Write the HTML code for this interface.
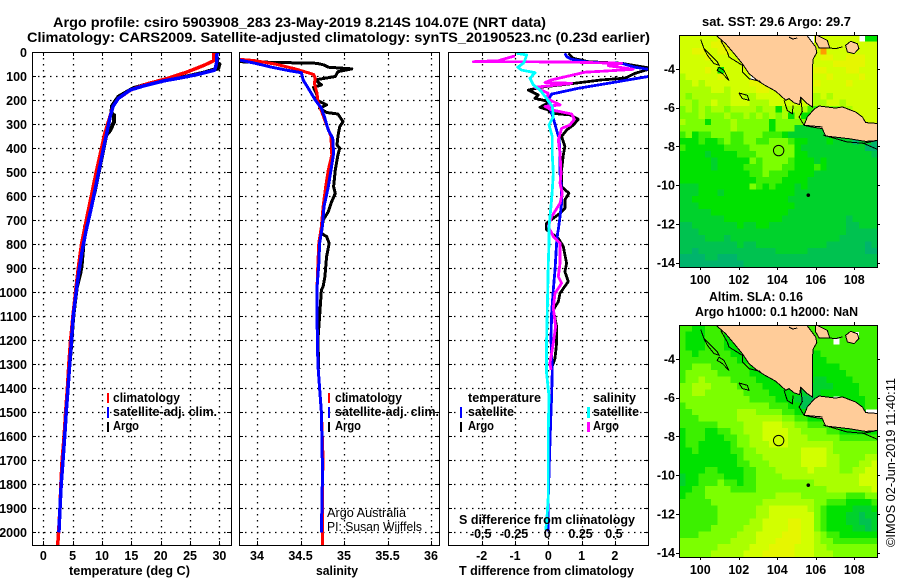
<!DOCTYPE html>
<html lang="en">
<head>
<meta charset="utf-8">
<title>Argo profile chart</title>
<style>
html,body{margin:0;padding:0;background:#fff;width:900px;height:580px;overflow:hidden}
svg{display:block}
text{font-family:"Liberation Sans",sans-serif;fill:#000}
.b{font-weight:700;font-size:13px}
.t{font-weight:700;font-size:14px}
.r{font-weight:400;font-size:13px}
</style>
</head>
<body>
<svg id="chart" xmlns="http://www.w3.org/2000/svg" width="900" height="580" viewBox="0 0 900 580">
<defs>
<clipPath id="clip-temp"><rect x="32" y="52" width="199" height="493"/></clipPath>
<clipPath id="clip-sal"><rect x="239" y="52" width="200" height="493"/></clipPath>
<clipPath id="clip-diff"><rect x="448" y="52" width="200" height="493"/></clipPath>
<clipPath id="clip-map-top"><rect x="679" y="35" width="198" height="232"/></clipPath>
<clipPath id="clip-map-bot"><rect x="679" y="325" width="198" height="232"/></clipPath>
</defs>
<rect width="900" height="580" fill="#fff"/>
<g id="layer-marks"></g>

<text class="t" x="53" y="27" textLength="493" lengthAdjust="spacingAndGlyphs">Argo profile: csiro 5903908_283 23-May-2019 8.214S 104.07E (NRT data)</text>
<text class="t" x="27" y="42" textLength="623" lengthAdjust="spacingAndGlyphs">Climatology: CARS2009. Satellite-adjusted climatology: synTS_20190523.nc (0.23d earlier)</text>

<text class="b" x="69" y="575" textLength="121" lengthAdjust="spacingAndGlyphs">temperature (deg C)</text>
<text class="b" x="316" y="575" textLength="42" lengthAdjust="spacingAndGlyphs">salinity</text>
<text class="b" x="459" y="575" textLength="175" lengthAdjust="spacingAndGlyphs">T difference from climatology</text>
<text class="b" x="459" y="524" textLength="176" lengthAdjust="spacingAndGlyphs">S difference from climatology</text>

<g>
<rect x="107" y="393" width="2" height="10" fill="#f00"/>
<text class="b" x="113" y="402" textLength="67" lengthAdjust="spacingAndGlyphs">climatology</text>
<rect x="107" y="407" width="2" height="11" fill="#00f"/>
<text class="b" x="113" y="416" textLength="104" lengthAdjust="spacingAndGlyphs">satellite-adj. clim.</text>
<rect x="107" y="422" width="2" height="10" fill="#000"/>
<text class="b" x="113" y="430" textLength="26" lengthAdjust="spacingAndGlyphs">Argo</text>
</g>
<g>
<rect x="328" y="393" width="2" height="10" fill="#f00"/>
<text class="b" x="335" y="402" textLength="67" lengthAdjust="spacingAndGlyphs">climatology</text>
<rect x="328" y="407" width="2" height="11" fill="#00f"/>
<text class="b" x="335" y="416" textLength="104" lengthAdjust="spacingAndGlyphs">satellite-adj. clim.</text>
<rect x="328" y="422" width="2" height="10" fill="#000"/>
<text class="b" x="335" y="430" textLength="26" lengthAdjust="spacingAndGlyphs">Argo</text>
<text class="r" x="327" y="517" textLength="79" lengthAdjust="spacingAndGlyphs">Argo Australia</text>
<text class="r" x="327" y="531" textLength="95" lengthAdjust="spacingAndGlyphs">PI: Susan Wijffels</text>
</g>
<g>
<text class="b" x="468" y="402" textLength="73" lengthAdjust="spacingAndGlyphs">temperature</text>
<rect x="460" y="407" width="2" height="11" fill="#00f"/>
<text class="b" x="468" y="416" textLength="46" lengthAdjust="spacingAndGlyphs">satellite</text>
<rect x="460" y="422" width="2" height="10" fill="#000"/>
<text class="b" x="468" y="430" textLength="26" lengthAdjust="spacingAndGlyphs">Argo</text>
<text class="b" x="593" y="402" textLength="43" lengthAdjust="spacingAndGlyphs">salinity</text>
<rect x="587" y="407" width="3" height="11" fill="#0ff"/>
<text class="b" x="593" y="416" textLength="46" lengthAdjust="spacingAndGlyphs">satellite</text>
<rect x="587" y="422" width="3" height="10" fill="#f0f"/>
<text class="b" x="593" y="430" textLength="26" lengthAdjust="spacingAndGlyphs">Argo</text>
</g>

<text class="b" x="702" y="26" textLength="149" lengthAdjust="spacingAndGlyphs">sat. SST: 29.6 Argo: 29.7</text>
<text class="b" x="709" y="301" textLength="94" lengthAdjust="spacingAndGlyphs">Altim. SLA: 0.16</text>
<text class="b" x="695" y="316" textLength="163" lengthAdjust="spacingAndGlyphs">Argo h1000: 0.1 h2000: NaN</text>
<text class="r" transform="translate(895 547) rotate(-90)" textLength="169" lengthAdjust="spacingAndGlyphs">©IMOS 02-Jun-2019 11:40:11</text>
</svg>

<script>
// ---------- profile data ----------
const depthTicks = [0,100,200,300,400,500,600,700,800,900,1000,1100,1200,1300,1400,1500,1600,1700,1800,1900,2000];
const tempTicks = [0,5,10,15,20,25,30];
const salTicks = [34,34.5,35,35.5,36];
const salTickLabels = ['34','34.5','35','35.5','36'];
const diffTicks = [-2,-1,0,1,2];
const sDiffTicks = [-0.5,-0.25,0,0.25,0.5];
const sDiffTickLabels = ['-0.5','-0.25','0','0.25','0.5'];

const tempClimDepth = [0,36,55,83,110,132,158,192,224,288,337,413,490,560,643,726,800,892,975,1100,1200,1300,1400,1500,1600,1700,1800,1900,2000,2053];
const tempClimValue = [29,29,27.3,24.4,21,17.6,14.8,12.8,11.9,11.1,10.5,9.8,9.1,8.5,7.8,7.1,6.5,6,5.6,5.05,4.65,4.35,4.1,3.8,3.55,3.2,3,2.85,2.6,2.45];
const tempSatDepth = [0,46,74,90,104,119,140,157,192,224,268,337,406,490,574,657,740,817,908,978,1100,1200,1300,1400,1500,1600,1700,1800,1900,2000];
const tempSatValue = [29.6,29.5,29.2,26.7,23.9,20.5,17.1,14.8,12.8,11.9,11.4,10.8,10.2,9.5,8.8,8.1,7.3,6.7,6.1,5.7,5.1,4.8,4.5,4.2,3.9,3.65,3.35,3.05,2.85,2.65];
const tempArgoDepth = [0,46,49,67,85,101,115,129,150,185,224,255,262,290,325,346,408,490,574,657,706,726,809,892,920,978,1100,1200,1320];
const tempArgoValue = [29.5,29.6,30,29.8,27.3,24.4,21,18.2,15.3,12.8,11.7,11.6,12.05,12.05,11.4,10.7,10.2,9.5,8.8,8,7.5,7.1,6.8,6.5,6.3,5.7,5.1,4.8,4.4];

const salClimDepth = [29,35,49,69,92,108,129,171,206,254,303,351,428,490,560,643,726,796,879,990,1100,1300,1400,1500,1700,1800,2000,2053];
const salClimValue = [33.8,33.98,34.21,34.44,34.65,34.67,34.66,34.69,34.7,34.75,34.8,34.85,34.86,34.82,34.79,34.76,34.74,34.71,34.7,34.69,34.69,34.7,34.72,34.74,34.76,34.75,34.75,34.75];
const salSatDepth = [32,46,62,76,85,115,150,199,233,275,324,358,421,490,560,643,726,796,879,983,1100,1300,1400,1500,1700,1800,2000];
const salSatValue = [33.8,33.98,34.17,34.36,34.51,34.53,34.59,34.67,34.74,34.78,34.82,34.87,34.88,34.85,34.82,34.77,34.75,34.72,34.71,34.69,34.69,34.7,34.72,34.74,34.75,34.75,34.74];
const salArgoDepth = [39,42,46,53,62,69,81,101,115,136,146,178,199,219,233,251,257,289,310,351,386,400,428,490,560,587,629,664,699,754,768,796,851,935,976,990,1100,1200,1320];
const salArgoValue = [33.8,34.21,34.69,34.77,34.82,35.09,34.93,34.9,34.67,34.74,34.65,34.69,34.69,34.8,34.72,34.8,34.93,34.99,34.95,34.93,34.92,34.95,34.93,34.9,34.88,34.9,34.85,34.82,34.76,34.74,34.8,34.83,34.8,34.78,34.76,34.74,34.72,34.7,34.71];

const tDiffSatDepth = [4,18,29,42,46,62,71,85,101,122,150,174,199,233,254,275,324,358,421,504,574,629,685,740,754,796,907,990,1087,1198,1323,1434,1546,1712,1851,1997];
const tDiffSatValue = [0.5,0.55,0.7,1.25,2.2,2.6,3,3.4,3,2.1,0.9,0.1,0,0.05,0.1,0.15,0.25,0.32,0.35,0.35,0.4,0.4,0.35,0.3,0.28,0.25,0.2,0.15,0.1,0.08,0.12,0.1,0.07,0.03,0,0];
const tDiffArgoDepth = [4,25,39,46,67,88,108,115,136,143,157,178,192,206,229,240,254,261,279,303,324,351,393,428,490,560,587,615,650,671,712,740,775,809,879,914,955,1004,1039,1073,1143,1212,1275,1323];
const tDiffArgoValue = [0.6,0.75,1.2,2.2,3.1,2.6,2.3,1.6,0.4,-0.1,-0.6,-0.3,-0.4,0.05,-0.25,0,0.1,0.65,0.9,0.75,0.55,0.4,0.5,0.45,0.4,0.4,0.62,0.5,0.5,0.35,-0.05,-0.05,0.3,0.45,0.55,0.5,0.6,0.35,0.3,0.15,0.25,0.25,0.2,0.08];
const sDiffSatDepth = [4,11,32,46,62,74,85,108,136,157,192,226,268,303,351,428,504,574,643,726,796,879,1018,1198,1337,1434,1573,1851,1962,1990];
const sDiffSatValue = [-0.2375,-0.1625,-0.175,-0.1875,-0.23,-0.2,-0.1,-0.1375,-0.1125,-0.0625,-0.0125,0.03,0.0375,0.005,0.03,0.03,0.0375,0.03,0.02,0.005,0.005,0,-0.005,-0.0125,-0.0125,0.005,0,0,-0.0125,-0.02];
const sDiffArgoDepth = [15,35,39,40,46,56,71,76,83,115,126,129,146,171,192,219,226,240,257,279,303,317,365,421,504,546,587,629,685,726,767,796,879,934,962,1004,1066,1143,1212,1295,1323];
const sDiffArgoValue = [-0.25,-0.375,-0.5625,0.0875,0.55,0.45,0.6375,0.5,0.275,0.025,-0.025,0.175,-0.1,0,-0.0125,0.0875,-0.025,0.025,0.175,0.195,0.1625,0.1,0.075,0.0875,0.095,0.0875,0.105,0.0875,0.025,0,0.0375,0.0875,0.0875,0.075,0.1,0.05,0.0375,0.055,0.0375,0.0125,0.02];

// ---------- map data (colour level per 1/3 degree cell, -1 = no data) ----------
const lonTicks = [100,102,104,106,108];
const latTicks = [-4,-6,-8,-10,-12,-14];
const sstGrid = [
[7,7,7,7,7,7,8,7,7,7,7,7,7,7,7,7,7,7,7,7,-1,7,7,7,7,7,7,7,-1,3,3],
[7,7,7,7,7,8,8,8,7,7,7,7,7,7,7,7,7,7,7,7,-1,7,7,7,7,7,7,7,7,7,7],
[7,7,8,8,7,7,8,8,7,7,7,7,7,7,7,7,7,7,7,7,7,7,9,7,7,7,7,7,7,7,7],
[7,7,7,7,8,7,7,7,7,7,7,7,7,7,7,7,7,7,7,7,7,7,8,8,7,7,8,8,8,7,7],
[7,7,7,7,7,7,7,7,7,7,7,7,7,7,7,7,7,7,7,7,7,7,7,7,8,8,8,8,8,7,7],
[7,7,7,7,8,7,3,7,7,7,7,7,7,7,7,7,7,7,7,7,7,8,8,7,7,7,8,8,7,7,7],
[6,7,7,7,7,7,8,7,7,7,7,-1,7,7,7,7,7,7,7,7,7,7,7,8,7,7,7,7,8,7,7],
[6,6,7,6,7,7,7,7,7,7,7,8,8,8,7,7,7,7,7,7,7,8,7,7,7,7,8,7,7,7,7],
[6,6,6,6,6,7,7,6,7,7,7,7,8,8,7,7,7,7,7,7,7,7,7,7,7,7,7,7,7,7,7],
[6,5,6,6,6,6,6,6,7,7,6,6,7,7,7,7,7,7,7,7,6,6,7,6,7,7,7,7,7,7,7],
[6,6,5,6,6,7,6,6,7,7,7,6,6,6,7,7,7,7,7,7,6,6,6,7,7,6,7,7,7,7,7],
[5,6,5,6,5,6,6,5,6,6,6,6,5,6,6,3,6,6,6,6,4,4,5,5,5,6,6,7,7,7,7],
[5,5,5,6,5,5,5,6,5,5,6,5,6,5,6,5,6,3,6,3,3,5,5,6,6,6,6,6,7,7,7],
[6,5,5,5,3,5,5,5,6,5,5,5,5,5,3,5,5,5,5,5,5,5,5,5,5,5,5,5,7,7,7],
[5,5,5,5,5,5,5,5,6,5,5,5,5,5,3,5,5,5,2,2,2,2,2,2,2,2,2,2,2,2,2],
[4,5,3,4,4,5,5,5,4,4,5,5,5,4,4,4,3,2,2,2,2,2,2,2,2,2,2,2,2,2,2],
[3,3,3,4,3,3,4,5,4,4,5,5,4,4,5,5,5,4,3,3,2,2,2,3,2,2,2,0,2,2,0],
[4,3,3,3,3,3,3,4,4,4,4,5,5,5,5,5,5,5,3,2,2,2,2,2,2,2,2,2,2,0,0],
[3,3,3,3,2,3,3,3,3,4,4,4,5,5,5,5,5,5,3,3,2,2,2,2,2,2,2,2,2,2,1],
[3,3,3,3,3,2,3,3,3,3,3,5,4,5,5,5,5,4,3,3,3,2,3,2,2,2,2,2,2,2,2],
[3,3,3,3,3,2,3,3,3,3,4,4,4,5,5,5,4,4,3,3,3,4,3,2,2,2,2,2,2,2,2],
[3,3,3,3,3,3,3,3,3,3,3,4,4,5,4,4,4,3,3,3,3,2,2,2,2,2,2,2,2,2,2],
[3,3,3,3,3,3,3,3,3,3,3,3,4,4,4,4,3,3,3,3,2,2,2,2,2,2,2,2,2,2,2],
[2,2,2,3,3,3,3,3,3,3,3,5,4,3,4,3,3,3,2,3,2,2,2,2,2,2,2,2,2,2,2],
[2,2,2,3,3,3,2,3,3,3,3,3,3,3,3,3,3,3,2,2,2,2,2,2,2,2,2,2,2,2,2],
[2,2,3,3,3,3,3,3,3,3,3,3,3,3,3,3,3,2,2,2,2,2,2,2,2,2,2,2,2,2,2],
[2,2,2,3,3,3,3,3,3,3,3,3,3,3,3,3,3,3,2,2,2,2,2,2,2,2,2,2,2,2,2],
[2,2,2,2,2,3,3,3,3,3,3,3,3,3,3,3,3,2,2,2,2,2,2,2,2,2,2,2,2,2,2],
[2,2,2,2,2,2,2,3,3,3,3,3,3,3,3,3,2,2,2,2,2,2,2,2,2,2,1,2,2,2,2],
[1,1,2,2,2,2,2,2,2,3,2,2,3,3,2,2,2,2,2,2,2,2,2,2,2,2,1,1,2,2,2],
[1,1,1,2,2,2,2,2,2,2,2,2,2,2,2,2,2,2,2,2,2,2,2,2,2,2,1,1,1,1,1],
[1,1,1,1,2,2,2,1,2,2,2,2,2,2,2,2,2,2,2,2,2,2,2,2,2,1,1,1,1,1,1],
[1,1,1,1,1,1,1,1,1,2,1,1,2,2,2,2,2,2,2,2,2,2,2,1,1,1,1,1,1,0,1],
[1,1,0,1,1,1,1,1,1,1,1,1,1,1,1,2,2,2,2,2,1,1,1,1,1,1,1,1,1,0,0],
[0,0,0,0,1,1,0,0,0,1,1,1,1,1,1,1,1,1,1,1,1,1,1,1,1,1,1,1,1,1,1],
[0,0,0,0,0,0,0,0,0,0,1,1,1,1,1,1,1,1,1,1,1,1,1,1,1,1,1,1,1,1,1]
];
const slaGrid = [
[4,4,3,3,4,4,4,3,3,3,3,3,3,3,3,3,3,3,3,3,4,4,4,4,4,4,4,4,4,4,4],
[4,3,3,3,4,4,4,3,3,3,3,3,3,3,3,3,3,3,3,3,4,4,3,4,4,4,4,-1,4,4,4],
[4,3,3,3,4,4,4,3,3,3,3,3,3,3,3,3,3,3,3,3,4,4,4,4,-1,4,4,4,4,4,4],
[4,3,3,3,4,4,4,3,3,3,3,3,3,3,3,3,3,3,3,3,3,4,4,4,4,4,4,4,4,4,4],
[4,4,3,4,4,4,4,4,3,3,3,3,3,3,3,3,3,3,3,3,3,3,4,4,4,4,4,4,4,4,4],
[4,4,4,4,4,4,4,4,4,3,3,3,3,3,3,3,3,3,3,3,3,3,3,4,4,4,4,4,4,4,4],
[4,4,5,5,5,4,4,4,4,4,4,3,3,3,3,3,3,3,3,3,3,3,3,3,3,4,4,4,4,4,4],
[4,5,5,5,5,5,4,4,4,4,4,3,3,3,3,3,3,3,3,3,3,3,3,3,3,3,4,4,4,4,4],
[4,5,5,6,5,5,5,5,4,4,4,4,3,3,3,3,3,3,3,3,3,2,2,3,3,3,3,4,4,4,4],
[5,5,6,6,6,5,5,5,5,4,4,4,4,3,3,3,3,3,3,3,2,2,2,2,3,3,3,3,4,4,4],
[5,5,6,6,5,5,5,5,5,5,4,4,4,4,3,3,3,3,3,2,2,2,3,3,3,3,3,3,4,4,4],
[5,5,5,5,5,5,5,5,5,5,5,4,4,4,4,3,3,3,2,1,1,2,3,3,-1,3,3,3,3,4,4],
[4,5,5,5,5,5,5,5,5,5,5,5,5,5,4,4,4,3,3,1,1,2,3,3,3,3,3,3,3,4,4],
[4,4,5,5,5,5,5,5,5,6,6,6,5,5,5,5,4,4,3,3,3,3,3,3,3,3,3,3,3,-1,-1],
[4,4,4,5,5,5,5,5,5,6,6,6,6,6,6,6,5,5,4,4,3,3,3,3,3,3,3,3,3,3,3],
[4,4,4,4,4,4,5,5,5,5,6,6,6,7,7,7,6,6,5,5,4,4,4,4,3,3,3,3,3,3,3],
[3,4,4,4,3,3,4,4,5,5,6,6,6,7,7,7,7,6,6,5,5,5,5,4,4,3,3,3,3,3,3],
[3,4,4,4,3,3,3,4,4,5,5,6,6,7,7,7,7,6,6,6,5,5,5,5,5,4,4,4,4,4,4],
[3,4,4,3,3,3,3,3,4,5,5,6,6,6,7,7,7,6,6,6,6,6,6,6,5,5,5,5,5,5,5],
[3,3,4,3,3,3,3,3,4,4,5,5,6,6,6,6,6,6,6,7,7,7,7,6,5,5,5,5,5,5,5],
[3,3,3,3,3,3,3,3,3,4,5,5,5,6,6,6,6,6,6,7,7,7,7,6,6,5,5,5,5,6,6],
[3,3,3,3,3,3,3,3,3,4,4,5,5,5,6,6,6,6,6,7,7,7,7,6,6,5,5,5,6,6,7],
[3,3,3,3,4,4,3,3,3,3,4,4,5,5,5,6,6,6,6,6,7,6,6,6,6,5,5,6,6,7,7],
[2,3,3,4,4,4,4,3,3,3,4,4,5,5,5,5,6,6,6,6,6,6,6,6,6,6,6,6,7,7,7],
[2,3,3,4,4,4,5,4,4,3,4,4,5,5,5,5,5,5,5,5,5,6,6,6,6,6,6,6,7,7,7],
[3,3,4,4,5,5,5,5,4,4,4,4,5,5,5,5,5,5,5,5,5,5,5,6,6,6,6,6,6,6,7],
[3,4,4,4,5,5,5,5,5,5,5,5,5,5,5,6,6,6,6,5,5,5,5,5,5,5,4,4,4,5,5],
[4,4,4,4,4,5,5,5,5,5,5,5,5,6,6,6,6,6,6,6,6,5,5,4,4,4,3,3,3,3,4],
[4,4,4,4,4,4,5,5,5,5,5,5,6,6,7,7,7,7,7,7,6,5,4,3,3,3,3,2,2,2,3],
[4,4,4,4,4,4,5,5,5,5,5,5,6,6,7,7,7,7,7,7,7,5,4,3,3,3,2,2,1,2,2],
[4,4,4,4,4,4,5,5,5,5,5,6,6,7,7,7,7,8,8,7,7,5,4,3,3,3,2,2,1,1,2],
[4,4,4,4,4,5,5,5,5,5,6,6,6,7,7,7,7,8,8,7,7,5,4,3,3,3,3,2,2,1,2],
[4,4,4,5,5,5,5,5,5,6,6,6,7,7,7,7,8,8,8,7,7,6,5,4,4,3,3,3,3,3,3],
[5,5,5,5,5,5,5,5,6,6,6,6,7,7,7,8,8,8,8,7,7,6,5,5,4,4,4,4,4,4,4],
[5,5,5,5,5,5,6,6,6,6,6,7,7,7,8,8,8,8,7,7,7,6,6,5,5,5,5,5,5,5,5],
[5,5,5,5,5,6,6,6,6,6,7,7,7,8,8,8,8,8,7,7,7,6,6,6,5,5,5,5,5,5,5]
];
const levelColors = ['#00b46c','#00c250','#00d22c','#00e200','#3cf000','#7cff00','#aaff00','#d2ff00','#e6f600','#ff9c00'];

const sumatraCoast = [[100.85,-2.2],[100.85,-2.29],[101.32,-2.69],[101.75,-3.2],[102.18,-3.72],[102.53,-4.24],[102.96,-4.59],[103.31,-4.81],[103.92,-5.15],[104.44,-5.62],[104.61,-5.53],[104.87,-5.74],[105.16,-5.84],[105.21,-5.46],[105.56,-5.79],[105.82,-5.96],[105.82,-3.98],[105.87,-3.47],[106.05,-3.16],[105.99,-2.86],[105.56,-2.29],[105.56,-2.2]];
const riauCoast = [[106.13,-2.2],[106.13,-2.29],[106.6,-2.52],[106.72,-2.91],[106.17,-2.91],[105.99,-2.6],[105.99,-2.2]];
const bangkaCoast = [[107.55,-2.78],[107.81,-2.57],[108.16,-2.69],[108.24,-2.95],[107.99,-3.21],[107.64,-3.12]];
const javaCoast = [[105.39,-6.91],[105.56,-6.48],[105.91,-6.08],[106.17,-5.91],[107.03,-6.02],[107.38,-5.96],[108.07,-6.22],[108.42,-6.48],[108.59,-6.77],[109.3,-6.82],[109.3,-7.69],[108.59,-7.74],[107.73,-7.6],[106.51,-7.46],[106.34,-7.08],[105.82,-7]];
const shelfLine = [[101.06,-2.52],[101.4,-3.12],[101.49,-3.38],[102.18,-3.81],[102.18,-4.15],[102.53,-4.5],[103.14,-4.64]];
const siberutIsland = [[100.02,-2.47],[100.19,-2.95],[100.45,-3.21],[100.89,-3.64],[100.97,-3.81],[100.71,-3.72],[100.37,-3.29],[100.19,-2.95]];
const pagaiIsland = [[100.97,-3.9],[101.23,-4.07],[101.49,-4.59],[101.15,-4.24],[100.88,-4.07],[100.97,-3.9]];
const engganoIsland = [[102.01,-5.24],[102.44,-5.36],[102.53,-5.62],[102.18,-5.53],[102.01,-5.24]];
const straitLineWest = [[104.35,-5.62],[104.52,-6.14],[104.78,-6.31],[104.82,-5.88]];
const straitLineEast = [[105.21,-5.46],[105.3,-6.2],[105.13,-6.48],[105.39,-6.91],[106.34,-6.99]];
const javaShelfLine = [[106.39,-7.41],[107.6,-7.76],[108.47,-7.84],[109.3,-8.19]];
const javaShelfEnd = [[108.47,-7.84],[109.3,-7.67]];
const northIslets = [[104.61,-2.35],[104.8,-2.45],[105.04,-2.4]];
const riauIslets = [[106.69,-2.91],[107.03,-2.95],[107.38,-2.86]];
const floatPosition = [104.07,-8.214];
const christmasIsland = [105.61,-10.52];

// ---------- scales ----------
const NS = 'http://www.w3.org/2000/svg';
const root = document.getElementById('layer-marks');
const yDepth = d => 52.3 + d * 0.24;
const xTemp = v => 43.3 + v * 5.87;
const xSal = v => 257 + (v - 34) * 87;
const xTDiff = v => 548.3 + v * 33.3;
const xSDiff = v => 548.3 + v * 133.2;
const lonX = lon => 700.3 + (lon - 100) * 19.25;
const latY = (lat, top) => top + 34 + (-4 - lat) * 19.35;

function svgEl(tag, attrs, parent) {
  const e = document.createElementNS(NS, tag);
  for (const k in attrs) e.setAttribute(k, attrs[k]);
  parent.appendChild(e);
  return e;
}

function drawProfile(parent, values, depths, xFn, color, width, name) {
  const pts = values.map((v, i) => xFn(v).toFixed(1) + ',' + yDepth(depths[i]).toFixed(1)).join(' ');
  const line = svgEl('polyline', {points: pts, fill: 'none', stroke: color, 'stroke-width': width, 'stroke-linejoin': 'round', 'shape-rendering': 'crispEdges'}, parent);
  
  
}

function drawProfileAxes(left, right, xTickPositions, name) {
  const top = 52, bottom = 545;
  const axes = svgEl('g', {fill: 'none', stroke: '#000'}, root);
  
  
  depthTicks.forEach(d => {
    const y = Math.round(yDepth(d)) + 0.5;
    if (d > 0) {
      const g = svgEl('line', {x1: left, x2: right, y1: y, y2: y, 'stroke-width': 1.3, 'stroke-dasharray': '1.5 4.5'}, axes);
      
      
    }
    const a = svgEl('line', {x1: left, x2: left + 4, y1: y, y2: y, 'stroke-width': 1}, axes);
    
    
    const b = svgEl('line', {x1: right - 4, x2: right, y1: y, y2: y, 'stroke-width': 1}, axes);
    
    
  });
  xTickPositions.forEach(x0 => {
    const x = Math.round(x0) + 0.5;
    const g = svgEl('line', {x1: x, x2: x, y1: top, y2: bottom, 'stroke-width': 1.3, 'stroke-dasharray': '1.5 4.5'}, axes);
    
    
    const a = svgEl('line', {x1: x, x2: x, y1: top, y2: top + 4, 'stroke-width': 1}, axes);
    
    
    const b = svgEl('line', {x1: x, x2: x, y1: bottom - 4, y2: bottom, 'stroke-width': 1}, axes);
    
    
  });
}

function drawFrame(left, top, w, h, name) {
  const f = svgEl('rect', {x: left + 0.5, y: top + 0.5, width: w, height: h, fill: 'none', stroke: '#000', 'stroke-width': 1.2, 'shape-rendering': 'crispEdges'}, root);
  
  
}

function tickLabel(x, y, str, anchor, name) {
  const t = svgEl('text', {x: x, y: y, 'text-anchor': anchor, 'font-size': 12.5, 'font-weight': 700}, root);
  t.textContent = str;
  
  
}

// ---------- profile panels ----------
drawProfileAxes(32, 231, tempTicks.map(xTemp), 'temperature-axes');
drawProfileAxes(239, 439, salTicks.map(xSal), 'salinity-axes');
drawProfileAxes(448, 648, diffTicks.map(xTDiff), 'difference-axes');

const panelTemp = svgEl('g', {'clip-path': 'url(#clip-temp)'}, root);


drawProfile(panelTemp, tempArgoValue, tempArgoDepth, xTemp, '#000', 4, 'temperature-argo-line');
drawProfile(panelTemp, tempClimValue, tempClimDepth, xTemp, '#f00', 3.5, 'temperature-climatology-line');
drawProfile(panelTemp, tempSatValue, tempSatDepth, xTemp, '#00f', 3.5, 'temperature-satellite-line');

const panelSal = svgEl('g', {'clip-path': 'url(#clip-sal)'}, root);


drawProfile(panelSal, salArgoValue, salArgoDepth, xSal, '#000', 3, 'salinity-argo-line');
drawProfile(panelSal, salClimValue, salClimDepth, xSal, '#f00', 3, 'salinity-climatology-line');
drawProfile(panelSal, salSatValue, salSatDepth, xSal, '#00f', 3, 'salinity-satellite-line');

const panelDiff = svgEl('g', {'clip-path': 'url(#clip-diff)'}, root);


drawProfile(panelDiff, tDiffArgoValue, tDiffArgoDepth, xTDiff, '#000', 2.8, 't-difference-argo-line');
drawProfile(panelDiff, tDiffSatValue, tDiffSatDepth, xTDiff, '#00f', 2.8, 't-difference-satellite-line');
drawProfile(panelDiff, sDiffArgoValue, sDiffArgoDepth, xSDiff, '#f0f', 2.8, 's-difference-argo-line');
drawProfile(panelDiff, sDiffSatValue, sDiffSatDepth, xSDiff, '#0ff', 2.8, 's-difference-satellite-line');

drawFrame(32, 52, 199, 493, 'temperature-frame');
drawFrame(239, 52, 200, 493, 'salinity-frame');
drawFrame(448, 52, 200, 493, 'difference-frame');

depthTicks.forEach(d => {
  tickLabel(27, yDepth(d) + 4.5, String(d), 'end', 'depth-tick-label');
});
tempTicks.forEach(v => {
  tickLabel(xTemp(v), 560, String(v), 'middle', 'temperature-tick-label');
});
salTicks.forEach((v, i) => {
  tickLabel(xSal(v), 560, salTickLabels[i], 'middle', 'salinity-tick-label');
});
diffTicks.forEach(v => {
  tickLabel(xTDiff(v), 560, String(v), 'middle', 't-difference-tick-label');
});
sDiffTicks.forEach((v, i) => {
  tickLabel(xSDiff(v) - 1, 538, sDiffTickLabels[i], 'middle', 's-difference-tick-label');
});

// ---------- maps ----------
function geoPoints(coords, top) {
  return coords.map(p => lonX(p[0]).toFixed(1) + ',' + latY(p[1], top).toFixed(1)).join(' ');
}

function drawLand(parent, coords, top, name) {
  const p = svgEl('polygon', {points: geoPoints(coords, top), fill: '#ffcc99', stroke: '#000', 'stroke-width': 1, 'shape-rendering': 'crispEdges'}, parent);
  
  
}

function drawCoastLine(parent, coords, top, name) {
  const p = svgEl('polyline', {points: geoPoints(coords, top), fill: 'none', stroke: '#000', 'stroke-width': 1, 'shape-rendering': 'crispEdges'}, parent);
  
  
}

function drawMap(grid, top, clip, name) {
  const map = svgEl('g', {'clip-path': 'url(#' + clip + ')'}, root);
  
  
  const cell = 1 / 3, lon0 = 98.9, lat0 = -2.24;
  grid.forEach((row, r) => {
    row.forEach((level, c) => {
      if (level < 0) return;
      const x0 = lonX(lon0 + c * cell), x1 = lonX(lon0 + (c + 1) * cell);
      const y0 = latY(lat0 - r * cell, top), y1 = latY(lat0 - (r + 1) * cell, top);
      const rc = svgEl('rect', {x: x0.toFixed(2), y: y0.toFixed(2), width: (x1 - x0 + 0.6).toFixed(2), height: (y1 - y0 + 0.6).toFixed(2), fill: levelColors[level], 'shape-rendering': 'crispEdges'}, map);
      
      
    });
  });
  drawLand(map, sumatraCoast, top, 'sumatra-land');
  drawLand(map, riauCoast, top, 'riau-land');
  drawLand(map, bangkaCoast, top, 'bangka-land');
  drawLand(map, javaCoast, top, 'java-land');
  drawCoastLine(map, shelfLine, top, 'sumatra-shelf-line');
  drawCoastLine(map, siberutIsland, top, 'siberut-island');
  drawCoastLine(map, pagaiIsland, top, 'pagai-island');
  drawCoastLine(map, engganoIsland, top, 'enggano-island');
  drawCoastLine(map, straitLineWest, top, 'strait-line-west');
  drawCoastLine(map, straitLineEast, top, 'strait-line-east');
  drawCoastLine(map, javaShelfLine, top, 'java-shelf-line');
  drawCoastLine(map, javaShelfEnd, top, 'java-shelf-end');
  drawCoastLine(map, northIslets, top, 'north-islets');
  drawCoastLine(map, riauIslets, top, 'riau-islets');
  const ci = svgEl('circle', {cx: lonX(christmasIsland[0]), cy: latY(christmasIsland[1], top), r: 1.8, fill: '#000'}, map);
  
  
  const fl = svgEl('circle', {cx: lonX(floatPosition[0]), cy: latY(floatPosition[1], top), r: 5.2, fill: 'none', stroke: '#000', 'stroke-width': 1}, map);
  
  

  drawFrame(679, top, 198, 232, name + '-frame');
  lonTicks.forEach(lon => {
    const x = Math.round(lonX(lon)) + 0.5;
    const a = svgEl('line', {x1: x, x2: x, y1: top - 3, y2: top, stroke: '#000'}, root);
    
    
    const b = svgEl('line', {x1: x, x2: x, y1: top + 232, y2: top + 235, stroke: '#000'}, root);
    
    
    tickLabel(lonX(lon), top + 249, String(lon), 'middle', 'longitude-tick-label');
  });
  latTicks.forEach(lat => {
    const y = Math.round(latY(lat, top)) + 0.5;
    const a = svgEl('line', {x1: 676, x2: 679, y1: y, y2: y, stroke: '#000'}, root);
    
    
    const b = svgEl('line', {x1: 877, x2: 880, y1: y, y2: y, stroke: '#000'}, root);
    
    
    tickLabel(675, latY(lat, top) + 4.5, String(lat), 'end', 'latitude-tick-label');
  });
}

drawMap(sstGrid, 35, 'clip-map-top', 'sst-map');
drawMap(slaGrid, 325, 'clip-map-bot', 'sla-map');
</script>
</body>
</html>
